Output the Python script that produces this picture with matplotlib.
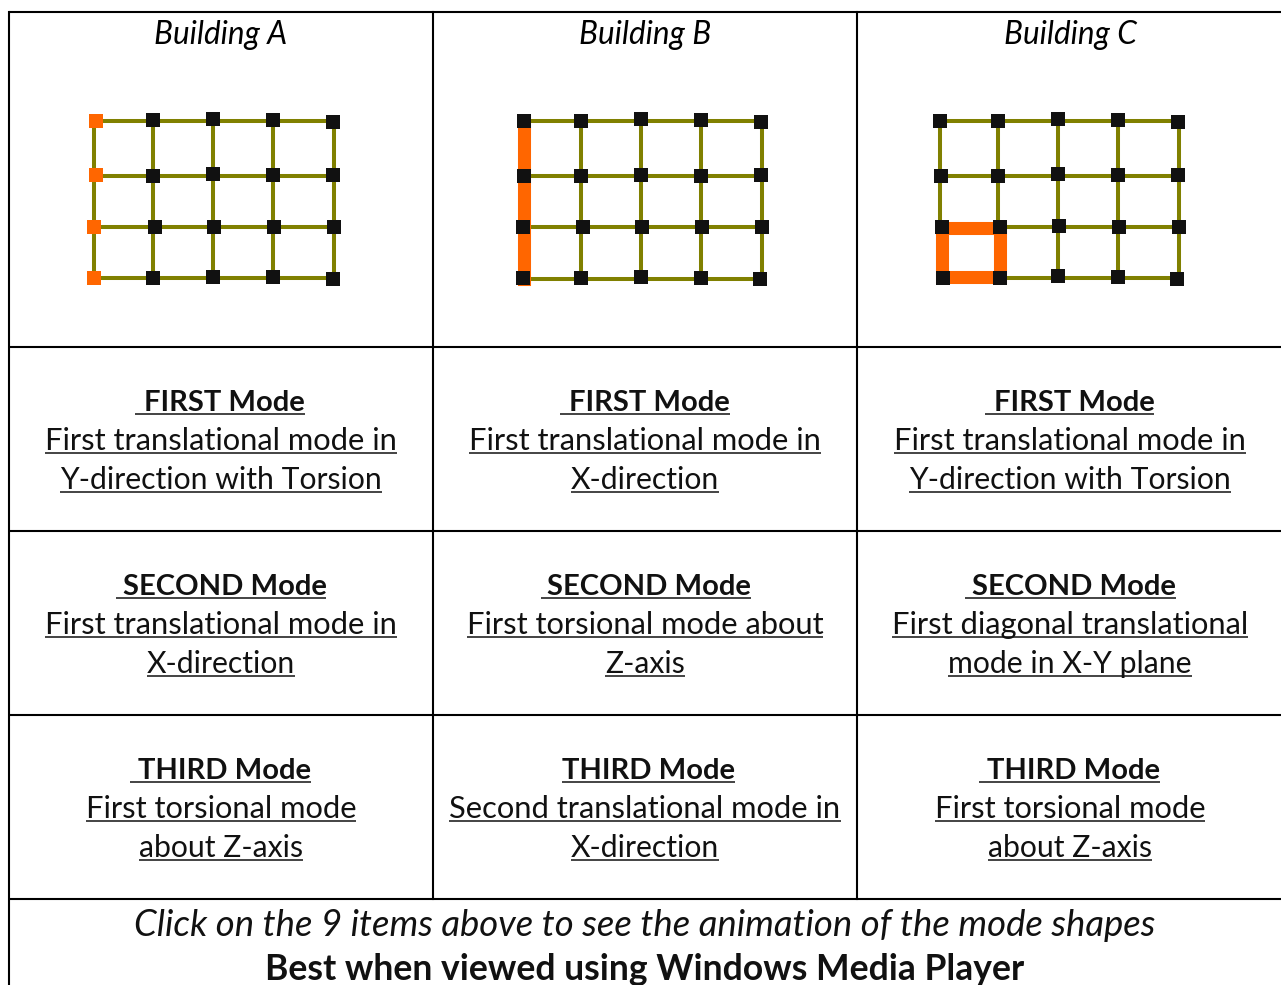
import matplotlib
matplotlib.use("Agg")
import matplotlib.pyplot as plt

plt.rcParams["font.family"] = ["Lato", "DejaVu Sans"]

# nodes, pixels, one row per floor line
nodes_a_x = [[96, 153, 213, 273, 333], [96, 153, 213, 273, 333], [94, 155, 214, 274, 334], [94, 153, 213, 273, 333]]
nodes_a_y = [[121, 120, 119, 120, 122], [175, 176, 174, 175, 175], [227, 227, 227, 227, 227], [278, 278, 277, 277, 279]]
nodes_b_x = [[524, 581, 641, 701, 761], [524, 581, 641, 701, 761], [523, 583, 642, 702, 762], [523, 581, 641, 701, 760]]
nodes_b_y = [[121, 121, 119, 120, 122], [176, 176, 175, 176, 175], [227, 227, 227, 227, 227], [278, 278, 277, 278, 279]]
nodes_c_x = [[940, 998, 1058, 1118, 1178], [941, 998, 1058, 1118, 1178], [942, 1000, 1059, 1119, 1179], [943, 1000, 1058, 1118, 1177]]
nodes_c_y = [[121, 121, 119, 120, 122], [176, 176, 174, 175, 175], [227, 227, 226, 227, 227], [278, 278, 276, 277, 279]]

# frame member centre lines
frame_a_x = [94, 153, 213, 273, 334]
frame_a_y = [121, 176, 227, 278]
frame_b_x = [524, 581, 641, 701, 762]
frame_b_y = [121, 176, 227, 279]
frame_c_x = [940, 998, 1058, 1118, 1179]
frame_c_y = [121, 176, 227, 278]

# highlighted members
stiff_b_x = 524
stiff_c_x = [942, 1000]
stiff_c_y = [228, 277]

building_names = ["Building A", "Building B", "Building C"]
column_centers = [221, 645, 1070]
mode_centers = [[224.5, 224.5, 224.5], [649.5, 649, 648.5], [1074, 1074, 1073.5]]
mode_line_starts = [[135, 116, 130], [560, 541, 562], [985, 965, 979]]
mode_names = ["FIRST Mode", "SECOND Mode", "THIRD Mode"]
mode_text = [
    [["First translational mode in", "Y-direction with Torsion"],
     ["First translational mode in", "X-direction"],
     ["First torsional mode", "about Z-axis"]],
    [["First translational mode in", "X-direction"],
     ["First torsional mode about", "Z-axis"],
     ["Second translational mode in", "X-direction"]],
    [["First translational mode in", "Y-direction with Torsion"],
     ["First diagonal translational", "mode in X-Y plane"],
     ["First torsional mode", "about Z-axis"]],
]
row_tops = [347, 531, 715]
vlines = [9, 433, 857]
hlines = [12, 347, 531, 715, 899]

olive = "#808000"
orange = "#FF6600"
black = "#111111"

fig = plt.figure(figsize=(12.81, 9.85), dpi=100)
ax = fig.add_axes([0, 0, 1, 1])
ax.set_xlim(0, 1281)
ax.set_ylim(985, 0)
ax.axis("off")

# table rules
for x in vlines:
    bottom = 899 if x != 9 else 985
    ax.plot([x, x], [12, bottom], color="black", lw=1.5, solid_capstyle="projecting")
for y in hlines:
    ax.plot([9, 1281], [y, y], color="black", lw=1.5, solid_capstyle="butt")


def draw_frame(fx, fy):
    for y in fy:
        ax.plot([fx[0], fx[-1]], [y, y], color=olive, lw=2.9, zorder=2)
    for x in fx:
        ax.plot([x, x], [fy[0], fy[-1]], color=olive, lw=2.9, zorder=2)


def draw_nodes(xs, ys):
    for rx, ry in zip(xs, ys):
        ax.plot(rx, ry, "s", color=black, ms=9.5, mew=0, zorder=4)


draw_frame(frame_a_x, frame_a_y)
draw_nodes(nodes_a_x, nodes_a_y)
ax.plot([r[0] for r in nodes_a_x], [r[0] for r in nodes_a_y], "s", color=orange, ms=9.6, mew=0, zorder=5)

draw_frame(frame_b_x, frame_b_y)
ax.plot([stiff_b_x, stiff_b_x], [frame_b_y[0], frame_b_y[-1]], color=orange, lw=9.4, zorder=3, solid_capstyle="projecting")
draw_nodes(nodes_b_x, nodes_b_y)

draw_frame(frame_c_x, frame_c_y)
ax.plot([stiff_c_x[0], stiff_c_x[1], stiff_c_x[1], stiff_c_x[0], stiff_c_x[0]],
        [stiff_c_y[0], stiff_c_y[0], stiff_c_y[1], stiff_c_y[1], stiff_c_y[0]],
        color=orange, lw=9.4, zorder=3, solid_joinstyle="miter")
draw_nodes(nodes_c_x, nodes_c_y)

for name, cx in zip(building_names, column_centers):
    ax.text(cx, 44, name, ha="center", va="baseline", fontsize=22.7, style="italic", color="black")

fig.canvas.draw()
renderer = fig.canvas.get_renderer()
inv = ax.transData.inverted()


def underlined(cx, y, s, start=None, **kw):
    t = ax.text(cx, y, s, ha="center", va="baseline", color="#111111", **kw)
    bb = t.get_window_extent(renderer)
    x0 = inv.transform((bb.x0, 0))[0]
    x1 = inv.transform((bb.x1, 0))[0]
    if start is not None:
        x0 = start
    ax.plot([x0, x1], [y + 3, y + 3], color="#111111", lw=1.1, solid_capstyle="butt")


for c in range(3):
    for r in range(3):
        top = row_tops[r]
        underlined(mode_centers[c][r], top + 64, mode_names[r], start=mode_line_starts[c][r],
                   fontsize=21, fontweight="bold")
        underlined(column_centers[c], top + 103, mode_text[c][r][0], fontsize=22.2)
        underlined(column_centers[c], top + 142, mode_text[c][r][1], fontsize=21.7)

ax.text(645, 936, "Click on the 9 items above to see the animation of the mode shapes",
        ha="center", va="baseline", fontsize=26.3, style="italic", color="#111111")
ax.text(645, 980, "Best when viewed using Windows Media Player",
        ha="center", va="baseline", fontsize=25.6, fontweight="bold", color="#111111")

fig.savefig("out.png", dpi=100)
